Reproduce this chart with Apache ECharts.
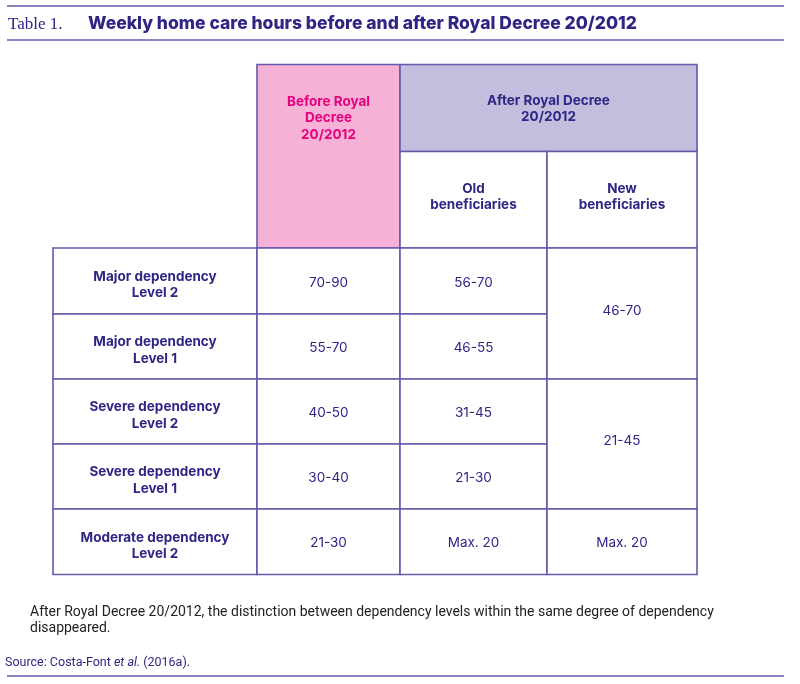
<!DOCTYPE html>
<html>
<head>
<meta charset="utf-8">
<script src="https://cdn.jsdelivr.net/npm/echarts@6/dist/echarts.min.js"></script>
<style>
  html, body { margin: 0; padding: 0; background: #fff; }
  #main { width: 800px; height: 684px; }
</style>
</head>
<body>
<div id="main"></div>
<script>
var myChart = echarts.init(document.getElementById('main'));

// table content
var rowLabels = ['Major dependency\nLevel 2', 'Major dependency\nLevel 1', 'Severe dependency\nLevel 2',
                 'Severe dependency\nLevel 1', 'Moderate dependency\nLevel 2'];
var beforeHours = ['70-90', '55-70', '40-50', '30-40', '21-30'];
var afterOldHours = ['56-70', '46-55', '31-45', '21-30', 'Max. 20'];
var afterNewHours = ['46-70', '21-45', 'Max. 20'];
var afterNewSpan = [2, 2, 1];   // rows merged per value
var headBefore = 'Before Royal\nDecree\n20/2012';
var headAfter = 'After Royal Decree\n20/2012';
var headSub = ['Old\nbeneficiaries', 'New\nbeneficiaries'];

// layout of the grid (axis units)
var colEdges = [0, 204, 347, 494, 644];
var rowEdges = [0, 87, 183.5, 249.5, 314.5, 379.5, 444.5, 510];

var ink = '#2e2585';
var rule = '#6658ab';

// build cells: [c0, c1, r0, r1, text, kind]
var cells = [];
cells.push([1, 2, 0, 2, headBefore, 'before']);
cells.push([2, 4, 0, 1, headAfter, 'after']);
cells.push([2, 3, 1, 2, headSub[0], 'sub']);
cells.push([3, 4, 1, 2, headSub[1], 'sub']);
rowLabels.forEach(function (t, i) {
    cells.push([0, 1, 2 + i, 3 + i, t, 'label']);
    cells.push([1, 2, 2 + i, 3 + i, beforeHours[i], 'value']);
    cells.push([2, 3, 2 + i, 3 + i, afterOldHours[i], 'value']);
});
var r = 2;
afterNewHours.forEach(function (t, i) {
    cells.push([3, 4, r, r + afterNewSpan[i], t, afterNewSpan[i] > 1 ? 'merged' : 'value']);
    r += afterNewSpan[i];
});

function renderCell(params, api) {
    var c = cells[params.dataIndex];
    var p0 = api.coord([colEdges[c[0]], rowEdges[c[2]]]);
    var p1 = api.coord([colEdges[c[1]], rowEdges[c[3]]]);
    var kind = c[5];
    var fill = kind === 'before' ? '#f6b1d7' : (kind === 'after' ? '#c3bedd' : '#ffffff');
    var color = kind === 'before' ? '#e5007d' : ink;
    var bold = kind !== 'value' && kind !== 'merged';
    var cx = (p0[0] + p1[0]) / 2;
    var mid = (p0[1] + p1[1]) / 2;
    var ty = mid, va = 'middle';
    if (kind === 'before') { ty = p0[1] + 29; va = 'top'; }
    else if (kind === 'after') { ty = mid + 1; }
    else if (kind === 'sub') { ty = mid - 3; }
    else if (kind === 'label') { ty = mid + 4; }
    else if (kind === 'merged') { ty = mid - 3; }
    else { ty = mid + 1.5; }
    return {
        type: 'group',
        children: [{
            type: 'rect',
            shape: { x: p0[0], y: p0[1], width: p1[0] - p0[0], height: p1[1] - p0[1] },
            style: { fill: fill, stroke: rule, lineWidth: 1.6 }
        }, {
            type: 'text',
            x: cx, y: ty,
            style: {
                text: c[4], fill: color, align: 'center', verticalAlign: va,
                font: (bold ? '700 ' : '400 ') + '13.5px Inter', lineHeight: 16.5
            }
        }]
    };
}

option = {
    animation: false,
    grid: { left: 53, width: 644, top: 64.5, height: 510 },
    xAxis: { type: 'value', min: 0, max: 644, show: false },
    yAxis: { type: 'value', min: 0, max: 510, inverse: true, show: false },
    graphic: [
        { type: 'line', shape: { x1: 7, y1: 6, x2: 784, y2: 6 }, style: { stroke: rule, lineWidth: 1.5 } },
        { type: 'line', shape: { x1: 7, y1: 40, x2: 784, y2: 40 }, style: { stroke: rule, lineWidth: 1.5 } },
        { type: 'text', x: 8, y: 25, style: { text: 'Table 1.', font: '400 17px "Liberation Serif"', fill: ink, verticalAlign: 'middle' } },
        { type: 'text', x: 88, y: 24, style: { text: 'Weekly home care hours before and after Royal Decree 20/2012', font: '800 17.5px Inter', fill: ink, verticalAlign: 'middle' } },
        { type: 'text', x: 30, y: 604, style: { text: 'After Royal Decree 20/2012, the distinction between dependency levels within the same degree of dependency\ndisappeared.', font: '400 14px Roboto', lineHeight: 16.5, fill: '#222222', verticalAlign: 'top' } },
        { type: 'text', x: 5, y: 663, style: {
            text: 'Source: Costa-Font {i|et al.} (2016a).', font: '400 12.5px Roboto', fill: ink, verticalAlign: 'middle',
            rich: { i: { font: 'italic 400 12.5px Roboto', fill: ink } } } },
        { type: 'line', shape: { x1: 7, y1: 676, x2: 784, y2: 676 }, style: { stroke: rule, lineWidth: 1.5 } }
    ],
    series: [{
        type: 'custom',
        renderItem: renderCell,
        data: cells.map(function (c, i) { return [i]; })
    }]
};

myChart.setOption(option);
</script>
</body>
</html>
